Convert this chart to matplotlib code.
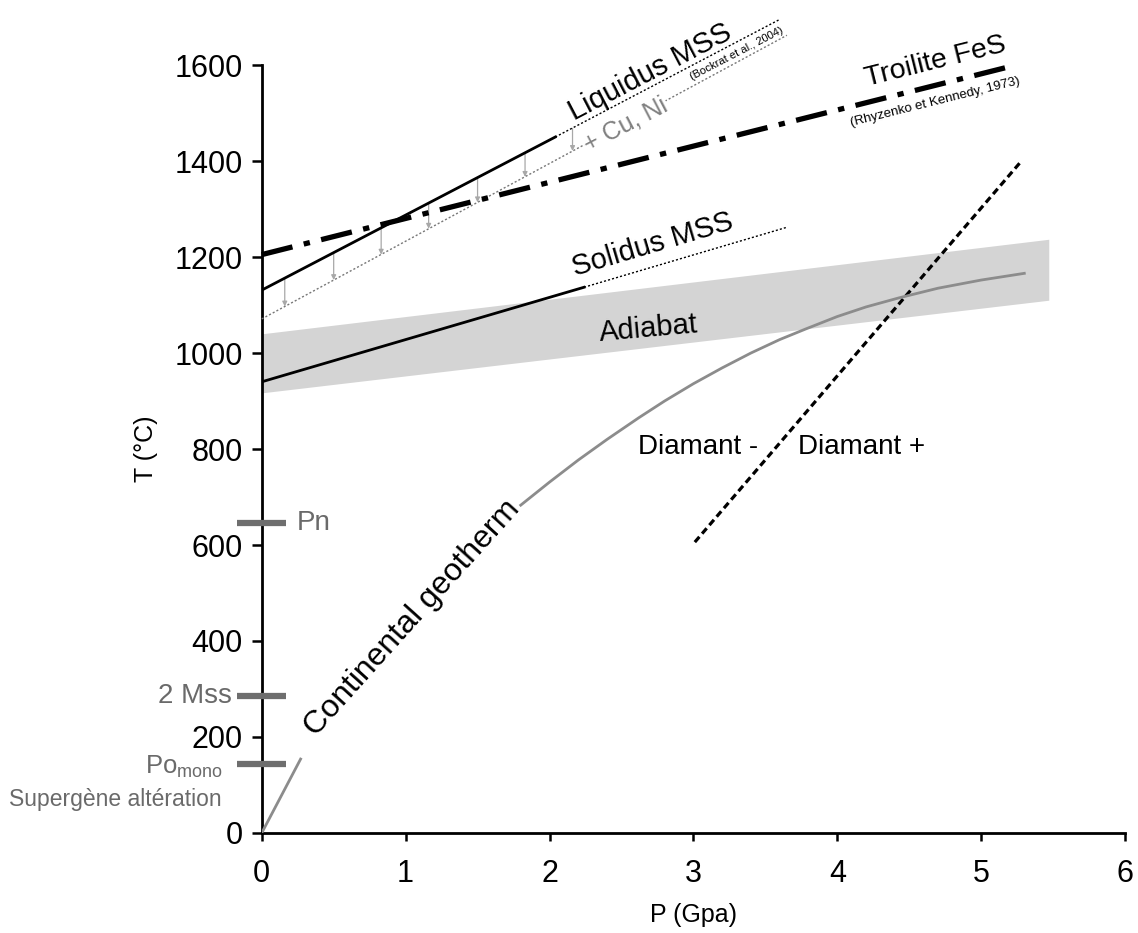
import numpy as np
import matplotlib.pyplot as plt

plt.rcParams['font.family'] = ['Liberation Sans', 'DejaVu Sans']

# P en GPa, T en degres C
adiabat_p = [0, 5.47]
adiabat_top = [1040, 1237]
adiabat_bot = [917, 1110]

solidus_p = [0, 2.24]
solidus_t = [940, 1137]
solidus_ext_p = [2.24, 3.65]
solidus_ext_t = [1137, 1262]

liquidus_p = [0, 2.04]
liquidus_t = [1131, 1450]
liquidus_ext_p = [2.04, 3.6]
liquidus_ext_t = [1450, 1695]

cuni_p = [0, 3.65]
cuni_t = [1071, 1662]

arrow_p = [0.16, 0.5, 0.83, 1.16, 1.5, 1.83, 2.16]
arrow_top = [1156, 1209, 1261, 1312, 1365, 1417, 1468]
arrow_bot = [1097, 1152, 1205, 1259, 1314, 1367, 1421]

troilite_p = [0, 5.19]
troilite_t = [1205, 1596]

diamond_p = [3.01, 5.28]
diamond_t = [606, 1400]

geo_low_p = [0, 0.27]
geo_low_t = [0, 154]
geo_p = [1.8, 2.0, 2.2, 2.4, 2.62, 2.8, 3.0, 3.2, 3.4, 3.6, 3.78, 4.0, 4.2, 4.43, 4.7, 5.0, 5.3]
geo_t = [683, 731, 777, 820, 865, 900, 936, 969, 1000, 1028, 1050, 1076, 1096, 1115, 1135,
         1152, 1166]

phase_names = ['Pn', '2 Mss', r'Po$_{\mathregular{mono}}$']
phase_t = [646, 285, 144]

x_ticks = [0, 1, 2, 3, 4, 5, 6]
y_ticks = [0, 200, 400, 600, 800, 1000, 1200, 1400, 1600]

fig = plt.figure(figsize=(11.38, 9.33), dpi=100)
ax = fig.add_axes([0.230, 0.1072, 0.7586, 0.8231])

grey_txt = '#6a6a6a'

ax.fill_between(adiabat_p, adiabat_bot, adiabat_top, color='#d4d4d4', lw=0, zorder=1)

ax.plot(solidus_p, solidus_t, color='black', lw=2, zorder=3)
ax.plot(solidus_ext_p, solidus_ext_t, color='black', lw=1, ls=(0, (1.5, 1.5)), zorder=3)

ax.plot(liquidus_p, liquidus_t, color='black', lw=2, zorder=3)
ax.plot(liquidus_ext_p, liquidus_ext_t, color='black', lw=1, ls=(0, (1.5, 1.5)), zorder=3,
        clip_on=False)
ax.plot(cuni_p, cuni_t, color='#777777', lw=1, ls=(0, (1.5, 1.5)), zorder=3, clip_on=False)

for p, t0, t1 in zip(arrow_p, arrow_top, arrow_bot):
    ax.annotate('', xy=(p, t1), xytext=(p, t0),
                arrowprops=dict(arrowstyle='-|>', color='#a8a8a8', lw=0.9,
                                mutation_scale=7, shrinkA=0, shrinkB=0), zorder=2)

ax.plot(troilite_p, troilite_t, color='black', lw=3.8, ls=(0, (6, 2.2, 1.2, 2.2)),
        zorder=4, clip_on=False)

ax.plot(diamond_p, diamond_t, color='black', lw=2.3, ls=(0, (2.2, 1.3)), zorder=3)

ax.plot(geo_low_p, geo_low_t, color='#8c8c8c', lw=2, zorder=3)
ax.plot(geo_p, geo_t, color='#8c8c8c', lw=2, zorder=3)

# marqueurs des phases sur l'axe T
for name, t in zip(phase_names, phase_t):
    ax.plot([-0.17, 0.17], [t, t], color='#6e6e6e', lw=4.5, solid_capstyle='butt',
            clip_on=False, zorder=5)
ax.text(0.24, phase_t[0], phase_names[0], color=grey_txt, fontsize=20, va='center', ha='left')
ax.text(-0.21, phase_t[1], phase_names[1], color=grey_txt, fontsize=20, va='center', ha='right')
ax.text(-0.27, phase_t[2] - 6, phase_names[2], color=grey_txt, fontsize=18.5, va='center',
        ha='right')
ax.text(-1.02, 69, 'Supergène altération', color=grey_txt, fontsize=16.5, va='center',
        ha='center')

# annotations
ax.text(2.70, 1585, 'Liquidus MSS', fontsize=21, rotation=27.5, ha='center', va='center',
        rotation_mode='anchor')
ax.text(3.30, 1624, '(Bockrat et al., 2004)', fontsize=8, rotation=27.5, ha='center',
        va='center', rotation_mode='anchor')
ax.text(2.53, 1476, '+ Cu, Ni', fontsize=18, color='#808080', rotation=27.5, ha='center',
        va='center', rotation_mode='anchor',
        bbox=dict(facecolor='white', edgecolor='none', pad=0.5))
ax.text(4.68, 1606, 'Troilite FeS', fontsize=20.5, rotation=14, ha='center', va='center',
        rotation_mode='anchor')
ax.text(4.68, 1522, '(Rhyzenko et Kennedy, 1973)', fontsize=9.5, rotation=14, ha='center',
        va='center', rotation_mode='anchor')
ax.text(2.72, 1225, 'Solidus MSS', fontsize=21, rotation=16.5, ha='center', va='center',
        rotation_mode='anchor')
ax.text(2.69, 1050, 'Adiabat', fontsize=21, rotation=5, ha='center', va='center',
        rotation_mode='anchor')
ax.text(3.03, 804, 'Diamant -', fontsize=20, ha='center', va='center')
ax.text(4.17, 804, 'Diamant +', fontsize=20, ha='center', va='center')
ax.text(1.05, 448, 'Continental geotherm', fontsize=23, rotation=48, ha='center',
        va='center', rotation_mode='anchor')

ax.set_xlim(0, 6)
ax.set_ylim(0, 1600)
ax.set_xticks(x_ticks)
ax.set_yticks(y_ticks)
ax.tick_params(axis='both', direction='out', labelsize=22, width=1.8, color='black')
ax.tick_params(axis='x', length=6, pad=13)
ax.tick_params(axis='y', length=7.5, pad=6)
for side in ['top', 'right']:
    ax.spines[side].set_visible(False)
for side in ['left', 'bottom']:
    ax.spines[side].set_linewidth(2)
ax.set_xlabel('P (Gpa)', fontsize=18, labelpad=10)
ax.set_ylabel('T (°C)', fontsize=18, labelpad=12)

fig.savefig('out.png', dpi=100, facecolor='white')
